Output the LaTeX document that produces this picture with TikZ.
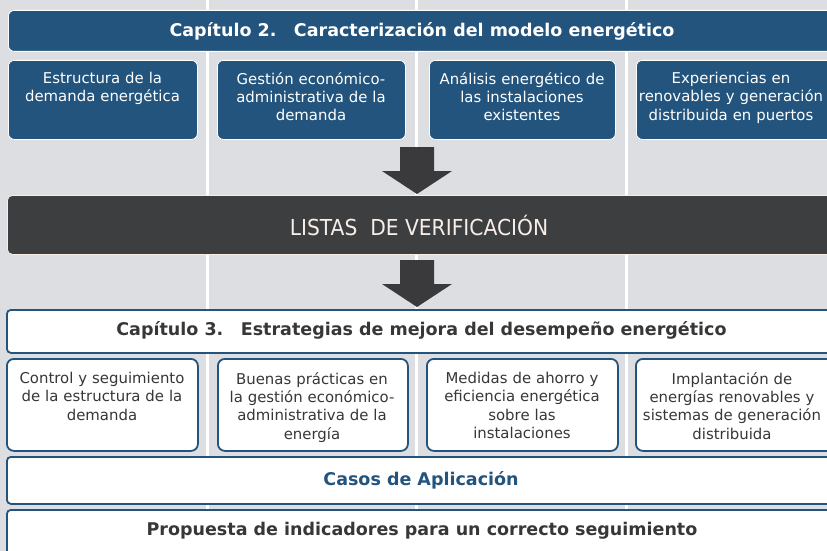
\documentclass[tikz,border=0pt]{standalone}
\usepackage{fontspec}
\setmainfont{DejaVu Sans}
\newfontfamily\condfont[FakeStretch=0.92]{DejaVu Sans}
\usetikzlibrary{positioning,calc}
\definecolor{portblue}{RGB}{35,84,125}
\definecolor{bggray}{RGB}{221,222,225}
\definecolor{darkbar}{RGB}{61,62,64}
\definecolor{arrowgray}{RGB}{58,58,60}
\definecolor{textgray}{RGB}{55,55,55}
\definecolor{listtext}{RGB}{248,238,232}
% block arrow pointing down to a tip coordinate
\newcommand{\downblock}[1]{%
  \fill[arrowgray] ($(#1)+(-17,-47)$) -- ($(#1)+(17,-47)$) -- ($(#1)+(17,-23)$)
    -- ($(#1)+(35,-23)$) -- (#1) -- ($(#1)+(-35,-23)$) -- ($(#1)+(-17,-23)$) -- cycle;}

\begin{document}
\begin{tikzpicture}[x=1pt,y=-1pt,
  bluebox/.style={draw=white, line width=0.8pt, fill=portblue, rounded corners=6pt, anchor=north west},
  whitebox/.style={draw=portblue, line width=1.8pt, fill=white, rounded corners=7pt, anchor=north west},
  bartext/.style={font=\bfseries\fontsize{17.5}{20}\selectfont, inner sep=0pt},
  boxtext/.style={text width=205pt, align=center, font=\fontsize{14.9}{18.3}\selectfont, inner sep=0pt, anchor=north}]
  \useasboundingbox (0,0) rectangle (827,551);
  \clip (0,0) rectangle (827,551);
  % background with column lines
  \fill[bggray] (0,0) rectangle (827,551);
  \foreach \cx in {207,416,626}
    \fill[white] (\cx-1.5,0) rectangle (\cx+1.5,551);

  % chapter 2
  \node[bluebox, minimum width=840pt, minimum height=41pt] (cap2) at (8,10) {};
  \node[bartext, white] (cap2txt) at (422,31) {Capítulo 2.\hspace{1em}Caracterización del modelo energético};

  \node[bluebox, minimum width=189pt, minimum height=79pt] (estr) at (8,60) {};
  \node[bluebox, minimum width=188pt, minimum height=79pt] (gest) at (217,60) {};
  \node[bluebox, minimum width=186pt, minimum height=79pt] (anal) at (429,60) {};
  \node[bluebox, minimum width=200pt, minimum height=79pt] (expe) at (636,60) {};
  \node[boxtext, white] (estrtxt) at (102.5,72) {Estructura de la\\demanda energética};
  \node[boxtext, white] (gesttxt) at (311,72) {Gestión económico-\\administrativa de la\\demanda};
  \node[boxtext, white] (analtxt) at (522,72) {Análisis energético de\\las instalaciones\\existentes};
  \node[boxtext, white] (expetxt) at (731,72) {Experiencias en\\renovables y generación\\distribuida en puertos};

  % checklists
  \node[draw=listtext, line width=0.8pt, fill=darkbar, rounded corners=5pt, anchor=north west,
        minimum width=830pt, minimum height=59pt] (listas) at (7,195) {};
  \node[text=listtext, inner sep=0pt, font=\condfont\fontsize{22}{24}\selectfont] (listastxt) at (419,225)
    {LISTAS\ \ DE VERIFICACIÓN};
  \coordinate (tip1) at (417,194);
  \coordinate (tip2) at (417,307);
  \downblock{tip1}
  \downblock{tip2}

  % chapter 3
  \node[whitebox, rounded corners=4pt, minimum width=840pt, minimum height=43pt] (cap3) at (6,309) {};
  \node[bartext, textgray] (cap3txt) at (421.5,330) {Capítulo 3.\hspace{1em}Estrategias de mejora del desempeño energético};

  \node[whitebox, minimum width=191pt, minimum height=92pt] (ctrl) at (6,358) {};
  \node[whitebox, minimum width=190pt, minimum height=92pt] (buen) at (217,358) {};
  \node[whitebox, minimum width=191pt, minimum height=92pt] (medi) at (426,358) {};
  \node[whitebox, minimum width=200pt, minimum height=92pt] (impl) at (635,358) {};
  \node[boxtext, textgray] (ctrltxt) at (102,372) {Control y seguimiento\\de la estructura de la\\demanda};
  \node[boxtext, textgray] (buentxt) at (312,372) {Buenas prácticas en\\la gestión económico-\\administrativa de la\\energía};
  \node[boxtext, textgray] (meditxt) at (522,372) {Medidas de ahorro y\\eficiencia energética\\sobre las\\instalaciones};
  \node[boxtext, textgray] (impltxt) at (732,372) {Implantación de\\energías renovables y\\sistemas de generación\\distribuida};

  \node[whitebox, rounded corners=4pt, minimum width=840pt, minimum height=47pt] (casos) at (6,456) {};
  \node[bartext, text=portblue] (casostxt) at (421,480) {Casos de Aplicación};
  \node[whitebox, rounded corners=4pt, minimum width=840pt, minimum height=60pt] (prop) at (6,509) {};
  \node[bartext, textgray] (proptxt) at (422,531) {Propuesta de indicadores para un correcto seguimiento};
\end{tikzpicture}
\end{document}
